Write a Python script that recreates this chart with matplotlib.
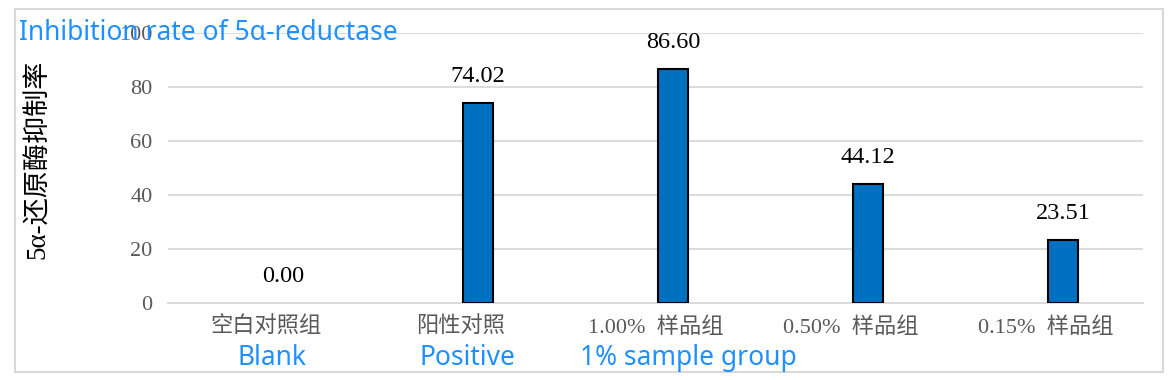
import matplotlib
matplotlib.use('Agg')
import matplotlib.pyplot as plt
from matplotlib.patches import Rectangle

categories = ["空白对照组", "阳性对照", "1.00%  样品组", "0.50%  样品组", "0.15%  样品组"]
values = [0.00, 74.02, 86.60, 44.12, 23.51]
y_ticks = [0, 20, 40, 60, 80, 100]
english_notes = ["Blank", "Positive", "1% sample group"]
note_x_px = [272, 467, 688]

W, H = 1172, 380
SERIF_CJK = ['Liberation Serif', 'Noto Sans CJK SC']
BLUE_TXT = '#1E90FF'

fig = plt.figure(figsize=(W / 100, H / 100), dpi=100)
ax = fig.add_axes([168 / W, 1 - 303 / H, (1143 - 168) / W, (303 - 33) / H])

xs = list(range(len(categories)))
bar_x = [x + 0.09 for x in xs]
bars = ax.bar(bar_x, values, width=0.15, color='#0070C0', edgecolor='black', linewidth=1.5, zorder=3)
for b in bars:
    if b.get_height() == 0:
        b.set_linewidth(0)

for bx, v in zip(bar_x, values):
    ax.annotate(f"{v:.2f}", (bx, v), xytext=(0, 15), textcoords='offset points',
                ha='center', va='baseline', fontsize=17.5, family=SERIF_CJK, color='black')

ax.set_xlim(-0.5, len(categories) - 0.5)
ax.set_ylim(0, 100)
ax.set_yticks(y_ticks)
ax.set_yticklabels([str(t) for t in y_ticks], family=SERIF_CJK, fontsize=16, color='#595959')
ax.set_xticks(xs)
ax.set_xticklabels(categories, family=SERIF_CJK, fontsize=16, color='#595959')
ax.tick_params(axis='both', length=0)
ax.tick_params(axis='y', pad=11)
ax.tick_params(axis='x', pad=10)
ax.grid(True, axis='y', color='#D9D9D9', linewidth=1.3, zorder=0)
ax.set_axisbelow(True)
for s in ['top', 'right', 'left']:
    ax.spines[s].set_visible(False)
ax.spines['bottom'].set_color('#D9D9D9')
ax.spines['bottom'].set_linewidth(1.3)

fig.text(38 / W, 1 - 159 / H, "5α-还原酶抑制率", rotation=90, ha='center', va='center',
         fontsize=19.5, family=SERIF_CJK, color='black')

# outer chart border
fig.patches.append(Rectangle((15 / W, 1 - 372 / H), (1163 - 15) / W, (372 - 9) / H,
                             transform=fig.transFigure, fill=False,
                             edgecolor='#D9D9D9', linewidth=1.5))

fig.text(19 / W, 1 - 40 / H, "Inhibition rate of 5α-reductase", ha='left', va='baseline',
         fontsize=19, family='Noto Sans', color=BLUE_TXT, zorder=10)
for nx, t in zip(note_x_px, english_notes):
    fig.text(nx / W, 1 - 365 / H, t, ha='center', va='baseline',
             fontsize=19, family='Noto Sans', color=BLUE_TXT)

fig.savefig('out.png', dpi=100)
